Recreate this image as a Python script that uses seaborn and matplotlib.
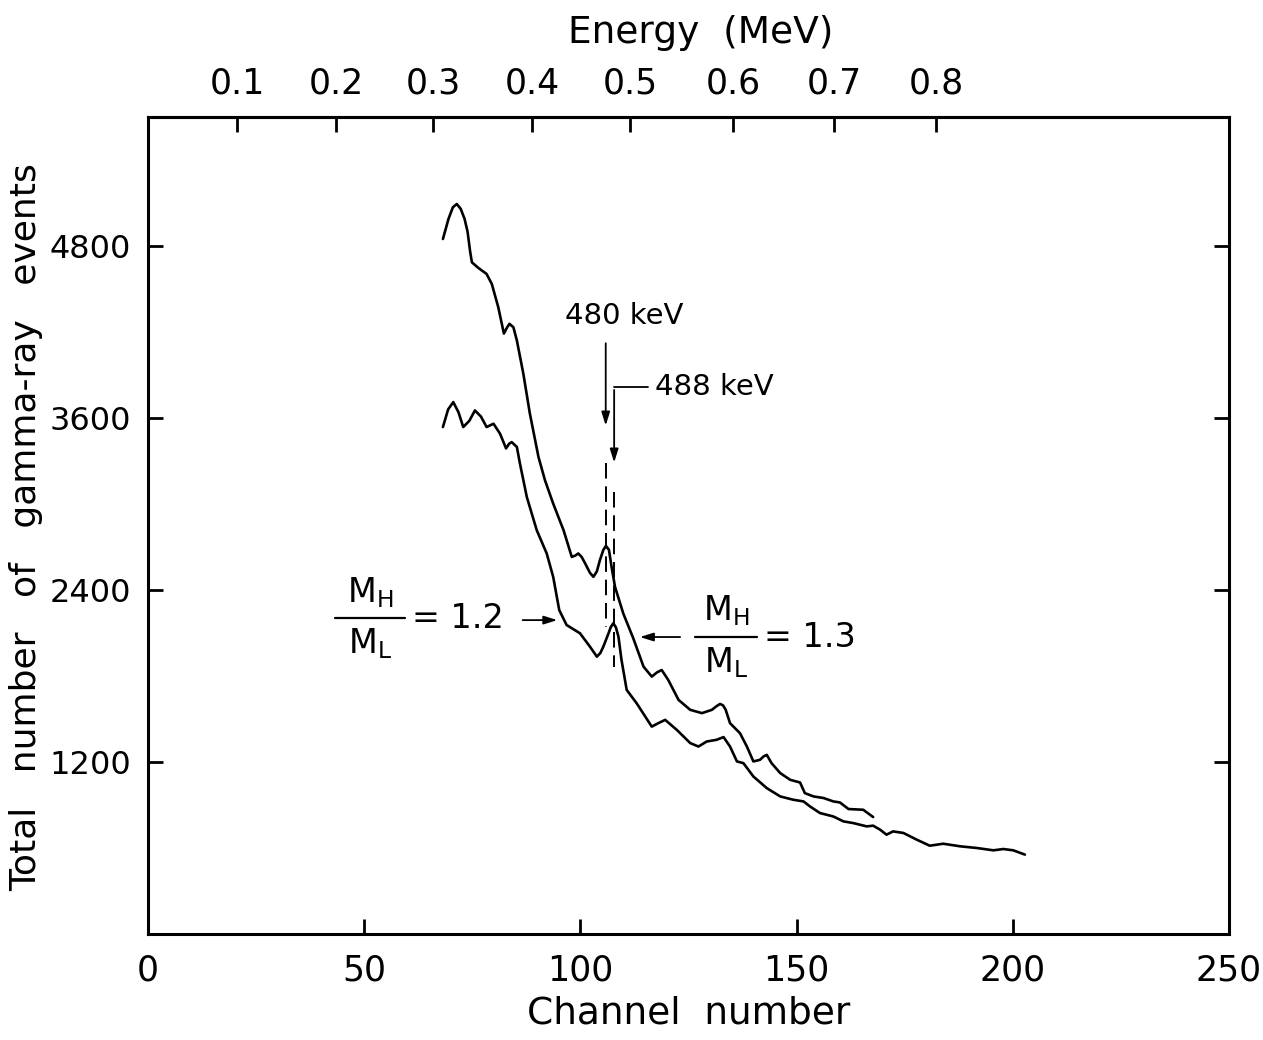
import matplotlib
matplotlib.use("Agg")
import matplotlib.pyplot as plt
import seaborn as sns

# channel / counts
upper_ch = [68.2, 69.5, 70.5, 71.4, 72.3, 73.2, 73.9, 74.5, 74.9, 76.4, 78.3, 79.5,
            81.0, 82.3, 83.0, 83.6, 84.5, 85.3, 86.8, 88.3, 90.3, 91.8, 93.7, 96.1,
            98.0, 98.8, 99.5, 100.3, 101.1, 102.2, 103.0, 103.8, 104.5, 105.3, 105.9,
            106.6, 107.2, 108.0, 109.9, 112.2, 114.6, 116.5, 117.7, 118.8, 120.3,
            122.7, 125.4, 128.1, 130.4, 131.5, 132.3, 133.0, 133.6, 134.6, 136.9,
            138.5, 140.0, 141.5, 142.4, 143.1, 144.2, 146.2, 148.5, 150.8, 151.9,
            153.9, 156.2, 158.5, 160.0, 162.0, 165.4, 167.7]
upper_counts = [4849, 4990, 5070, 5093, 5060, 4990, 4900, 4760, 4686, 4647, 4605, 4536,
                4373, 4189, 4230, 4257, 4233, 4141, 3909, 3632, 3328, 3166, 3003, 2817,
                2631, 2640, 2655, 2630, 2585, 2520, 2492, 2530, 2608, 2680, 2708,
                2680, 2562, 2422, 2237, 2065, 1865, 1796, 1825, 1842, 1773,
                1633, 1564, 1541, 1564, 1590, 1605, 1595, 1564, 1471, 1401,
                1308, 1204, 1215, 1240, 1250, 1192, 1123, 1076, 1057, 983,
                960, 949, 925, 918, 872, 867, 816]

lower_ch = [68.2, 69.4, 70.6, 71.8, 72.9, 74.3, 75.6, 77.0, 78.3, 79.9, 81.4, 82.8,
            83.5, 84.1, 85.3, 86.0, 87.6, 89.9, 92.2, 93.7, 95.1, 96.8, 99.9, 102.2,
            103.8, 104.6, 105.3, 106.5, 107.0, 107.6, 108.2, 108.8, 109.5, 110.7,
            113.0, 116.5, 118.0, 119.6, 122.3, 125.4, 127.3, 129.2, 131.5, 133.1,
            134.6, 136.2, 137.7, 140.0, 143.1, 146.2, 149.2, 151.6, 153.1, 155.4,
            158.5, 160.8, 163.1, 166.2, 167.7, 169.3, 170.8, 172.3, 174.7, 177.8,
            180.8, 183.9, 187.8, 191.7, 195.5, 197.8, 200.1, 202.8]
lower_counts = [3537, 3660, 3711, 3640, 3537, 3580, 3653, 3610, 3537, 3560, 3491, 3388,
                3420, 3432, 3398, 3284, 3049, 2817, 2655, 2492, 2260, 2156, 2098, 2005,
                1935, 1960, 2005, 2098, 2140, 2168, 2140, 2074, 1912, 1703,
                1610, 1447, 1471, 1494, 1424, 1332, 1308, 1343, 1355, 1374,
                1308, 1204, 1192, 1099, 1018, 960, 937, 925, 890, 844,
                820, 786, 774, 751, 756, 728, 693, 716, 705, 658,
                616, 630, 612, 600, 584, 593, 584, 554]

x_ticks = [0, 50, 100, 150, 200, 250]
y_ticks = [1200, 2400, 3600, 4800]
energy_labels = ["0.1", "0.2", "0.3", "0.4", "0.5", "0.6", "0.7", "0.8"]
energy_ch = [20.6, 43.5, 65.9, 88.8, 111.5, 135.3, 158.7, 182.3]

line_480_ch = 105.85
line_488_ch = 107.8

sns.set_style("ticks")
plt.rcParams["font.family"] = ["DejaVu Sans"]
plt.rcParams.update({"text.color": "black", "axes.labelcolor": "black",
                     "xtick.color": "black", "ytick.color": "black",
                     "axes.edgecolor": "black"})

fig = plt.figure(figsize=(12.63, 10.40), dpi=100)
ax = fig.add_axes([0.1172, 0.1019, 0.8559, 0.7856])

sns.lineplot(x=upper_ch, y=upper_counts, sort=False, estimator=None,
             color="black", linewidth=1.9, ax=ax)
sns.lineplot(x=lower_ch, y=lower_counts, sort=False, estimator=None,
             color="black", linewidth=1.9, ax=ax)

# dashed markers under the two arrows
ax.plot([line_480_ch, line_480_ch], [3284, 2142], color="black", lw=1.4,
        dashes=(8, 4))
ax.plot([line_488_ch, line_488_ch], [3082, 1863], color="black", lw=1.4,
        dashes=(8, 4))

ax.set_xlim(0, 250)
ax.set_ylim(0, 5700)
ax.set_xticks(x_ticks)
ax.set_yticks(y_ticks)
ax.set_xticklabels([str(t) for t in x_ticks], fontsize=25)
ax.set_yticklabels([str(t) for t in y_ticks], fontsize=23)
ax.tick_params(axis="both", direction="in", length=11, width=2, pad=12,
               right=True, top=False)
ax.tick_params(axis="x", pad=14)
for s in ax.spines.values():
    s.set_visible(True)
    s.set_linewidth(2.2)

sec = ax.secondary_xaxis("top")
sec.set_xticks(energy_ch)
sec.set_xticklabels(energy_labels, fontsize=25)
sec.tick_params(direction="in", length=11, width=2, pad=12)
sec.spines["top"].set_linewidth(2.2)

ax.set_xlabel("Channel  number", fontsize=27, labelpad=6)
fig.text(701 / 1263, 1 - 33 / 1040, "Energy  (MeV)", fontsize=27,
         ha="center", va="center")
fig.text(26 / 1263, 1 - 527 / 1040, "Total   number   of   gamma-ray   events",
         fontsize=26, rotation=90, ha="center", va="center")

arrow = dict(arrowstyle="-|>,head_length=0.8,head_width=0.25", color="black", lw=1.3)

# 480 keV
ax.text(110.1, 4315, "480 keV", fontsize=21, ha="center", va="center")
ax.annotate("", xy=(line_480_ch, 3528), xytext=(line_480_ch, 4141), arrowprops=arrow)

# 488 keV
ax.text(117.3, 3815, "488 keV", fontsize=21, ha="left", va="center")
ax.plot([115.6, line_488_ch], [3815, 3815], color="black", lw=1.3)
ax.annotate("", xy=(line_488_ch, 3270), xytext=(line_488_ch, 3815), arrowprops=arrow)

# ratio labels
def ratio(xc, x0, x1, y, value, xeq):
    ax.plot([x0, x1], [y, y], color="black", lw=1.6)
    ax.text(xc, y + 60, r"M$_\mathregular{H}$", fontsize=24, ha="center", va="bottom")
    ax.text(xc, y - 60, r"M$_\mathregular{L}$", fontsize=24, ha="center", va="top")
    ax.text(xeq, y, "= " + value, fontsize=24, ha="left", va="center")

ratio(51.3, 43.2, 59.4, 2204, "1.2", 61.1)
ax.annotate("", xy=(95.3, 2190), xytext=(86.0, 2190), arrowprops=arrow)

ratio(133.6, 126.5, 140.8, 2072, "1.3", 142.4)
ax.annotate("", xy=(113.1, 2072), xytext=(123.7, 2072), arrowprops=arrow)

fig.savefig("out.png", dpi=100)
